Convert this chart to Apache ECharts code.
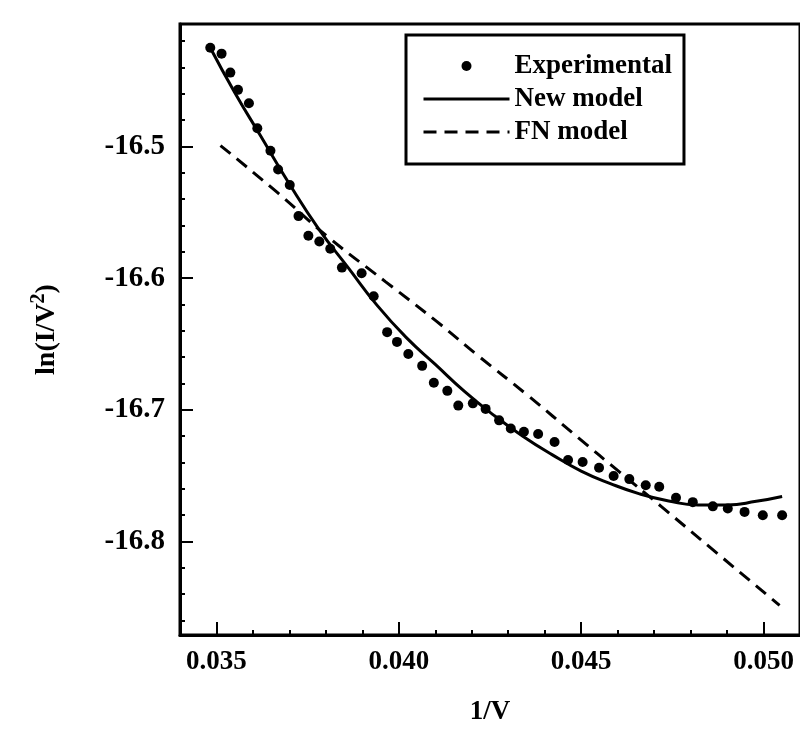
<!DOCTYPE html>
<html>
  <head>
    <meta http-equiv="Content-Type" content="text/html; charset=utf-8" />
    <title>ln(I/V2) vs 1/V</title>
    <script src="https://cdn.jsdelivr.net/npm/echarts@6/dist/echarts.min.js"></script>
    <style>
      html, body { margin: 0; padding: 0; background: #fff; }
      #chart { width: 800px; height: 731px; }
    </style>
  </head>
  <body>
    <div id="chart"></div>
    <script type="text/javascript">
      "use strict"

      // experimental points [1/V, ln(I/V^2)]
      const expX = [0.03483, 0.03514, 0.03538, 0.03559, 0.03589, 0.03612, 0.03648, 0.03669, 0.03701, 0.03725,
        0.03752, 0.03782, 0.03812, 0.03844, 0.03898, 0.03931, 0.03968, 0.03995, 0.04026, 0.04064,
        0.04096, 0.04133, 0.04163, 0.04203, 0.04238, 0.04275, 0.04307, 0.04343, 0.04382, 0.04427,
        0.04464, 0.04504, 0.04549, 0.04589, 0.04632, 0.04677, 0.04714, 0.0476, 0.04806, 0.04861,
        0.04902, 0.04948, 0.04998, 0.05051]
      const expY = [-16.425, -16.4295, -16.4439, -16.457, -16.4672, -16.4862, -16.5032, -16.5175, -16.5293, -16.5529,
        -16.5678, -16.5722, -16.5777, -16.592, -16.5963, -16.6137, -16.641, -16.6484, -16.6576, -16.6666,
        -16.6795, -16.6856, -16.6968, -16.6951, -16.6993, -16.708, -16.7142, -16.7167, -16.7183, -16.7244,
        -16.7381, -16.7396, -16.744, -16.7502, -16.7526, -16.7573, -16.7584, -16.7668, -16.7701, -16.7733,
        -16.775, -16.7775, -16.78, -16.78]

      // new model curve
      const newX = [0.03483, 0.0355, 0.0362, 0.037, 0.0378, 0.0386, 0.0394, 0.0402, 0.041, 0.0418,
        0.0426, 0.0434, 0.0442, 0.045, 0.0458, 0.0466, 0.0474, 0.0482, 0.049, 0.0498,
        0.05051]
      const newY = [-16.425, -16.459, -16.4915, -16.5285, -16.5625, -16.5916, -16.6205, -16.645, -16.6655, -16.686,
        -16.704, -16.72, -16.734, -16.7465, -16.756, -16.7638, -16.7692, -16.7722, -16.7722, -16.7695,
        -16.7658]

      // FN model curve
      const fnX = [0.03511, 0.0367, 0.03808, 0.03964, 0.04102, 0.0422, 0.04349, 0.04495, 0.04604, 0.0472,
        0.0486, 0.05044]
      const fnY = [-16.4993, -16.5357, -16.5692, -16.6028, -16.6325, -16.6595, -16.688, -16.7219, -16.747, -16.7735,
        -16.806, -16.8485]

      // ticks
      const xTicks = [0.035, 0.04, 0.045, 0.05]
      const xMinorTicks = [0.034, 0.036, 0.037, 0.038, 0.039, 0.041, 0.042, 0.043, 0.044, 0.046, 0.047, 0.048, 0.049, 0.051]
      const yTicks = [-16.5, -16.6, -16.7, -16.8]
      const yMinorTicks = [-16.42, -16.44, -16.46, -16.48, -16.52, -16.54, -16.56, -16.58, -16.62, -16.64, -16.66, -16.68,
        -16.72, -16.74, -16.76, -16.78, -16.82, -16.84, -16.86]

      const pairs = (xs, ys) => xs.map((x, i) => [x, ys[i]])

      const font = "'Liberation Serif', 'Times New Roman', serif"
      const xMin = 0.034
      const xMax = 0.051
      const yMin = -16.871
      const yMax = -16.407

      const myChart = echarts.init(document.getElementById("chart"), null, { renderer: "canvas" })

      const majorX = {
        type: "value",
        min: xMin,
        max: xMax,
        position: "bottom",
        name: "1/V",
        nameLocation: "middle",
        nameGap: 64,
        nameTextStyle: { fontFamily: font, fontSize: 27, fontWeight: "bold", color: "#000" },
        axisLine: { show: true, onZero: false, lineStyle: { color: "#000", width: 3 } },
        axisTick: { show: true, inside: true, length: 13, customValues: xTicks, lineStyle: { color: "#000", width: 2 } },
        axisLabel: {
          customValues: xTicks,
          margin: 14,
          fontFamily: font,
          fontSize: 27,
          fontWeight: "bold",
          color: "#000",
          formatter: (v) => v.toFixed(3)
        },
        splitLine: { show: false }
      }
      const minorX = {
        type: "value",
        min: xMin,
        max: xMax,
        position: "bottom",
        axisLine: { show: false },
        axisTick: { show: true, inside: true, length: 5, customValues: xMinorTicks, lineStyle: { color: "#000", width: 2 } },
        axisLabel: { show: false },
        splitLine: { show: false }
      }
      const majorY = {
        type: "value",
        min: yMin,
        max: yMax,
        position: "left",
        name: "{n|ln(I/V}{s|2}{n|)}",
        nameLocation: "middle",
        nameRotate: 90,
        nameGap: 116,
        nameTextStyle: {
          rich: {
            n: { fontFamily: font, fontSize: 28, fontWeight: "bold", color: "#000" },
            s: { fontFamily: font, fontSize: 20, fontWeight: "bold", color: "#000", padding: [0, 0, 15, 0] }
          }
        },
        axisLine: { show: true, onZero: false, lineStyle: { color: "#000", width: 3 } },
        axisTick: { show: true, inside: true, length: 13, customValues: yTicks, lineStyle: { color: "#000", width: 2 } },
        axisLabel: {
          customValues: yTicks,
          margin: 15,
          fontFamily: font,
          fontSize: 29,
          fontWeight: "bold",
          color: "#000",
          formatter: (v) => v.toFixed(1)
        },
        splitLine: { show: false }
      }
      const minorY = {
        type: "value",
        min: yMin,
        max: yMax,
        position: "left",
        axisLine: { show: false },
        axisTick: { show: true, inside: true, length: 5, customValues: yMinorTicks, lineStyle: { color: "#000", width: 2 } },
        axisLabel: { show: false },
        splitLine: { show: false }
      }

      const option = {
        backgroundColor: "#fff",
        animation: false,
        grid: {
          left: 180,
          right: -3,
          top: 24,
          bottom: 83,
          show: true,
          borderColor: "#000",
          borderWidth: 3
        },
        legend: {
          left: 406,
          top: 35,
          orient: "vertical",
          data: [
            { name: "Experimental" },
            { name: "New model", itemStyle: { opacity: 0 } },
            { name: "FN model", itemStyle: { opacity: 0 } }
          ],
          itemWidth: 86,
          itemHeight: 10,
          itemGap: 1,
          padding: [15, 12, 16, 16],
          borderColor: "#000",
          borderWidth: 3,
          lineStyle: { width: 3 },
          textStyle: { fontFamily: font, fontSize: 27, fontWeight: "bold", color: "#000", lineHeight: 32 }
        },
        xAxis: [majorX, minorX],
        yAxis: [majorY, minorY],
        series: [
          {
            name: "Experimental",
            type: "scatter",
            symbol: "circle",
            symbolSize: 10,
            itemStyle: { color: "#000", opacity: 1 },
            data: pairs(expX, expY),
            z: 3
          },
          {
            name: "New model",
            type: "line",
            smooth: 0.5,
            symbol: "none",
            showSymbol: false,
            lineStyle: { color: "#000", width: 3 },
            itemStyle: { color: "#000" },
            data: pairs(newX, newY)
          },
          {
            name: "FN model",
            type: "line",
            smooth: 0.5,
            symbol: "none",
            showSymbol: false,
            lineStyle: { color: "#000", width: 3, type: [13, 8] },
            itemStyle: { color: "#000" },
            data: pairs(fnX, fnY)
          }
        ]
      }
      myChart.setOption(option)
    </script>
  </body>
</html>
